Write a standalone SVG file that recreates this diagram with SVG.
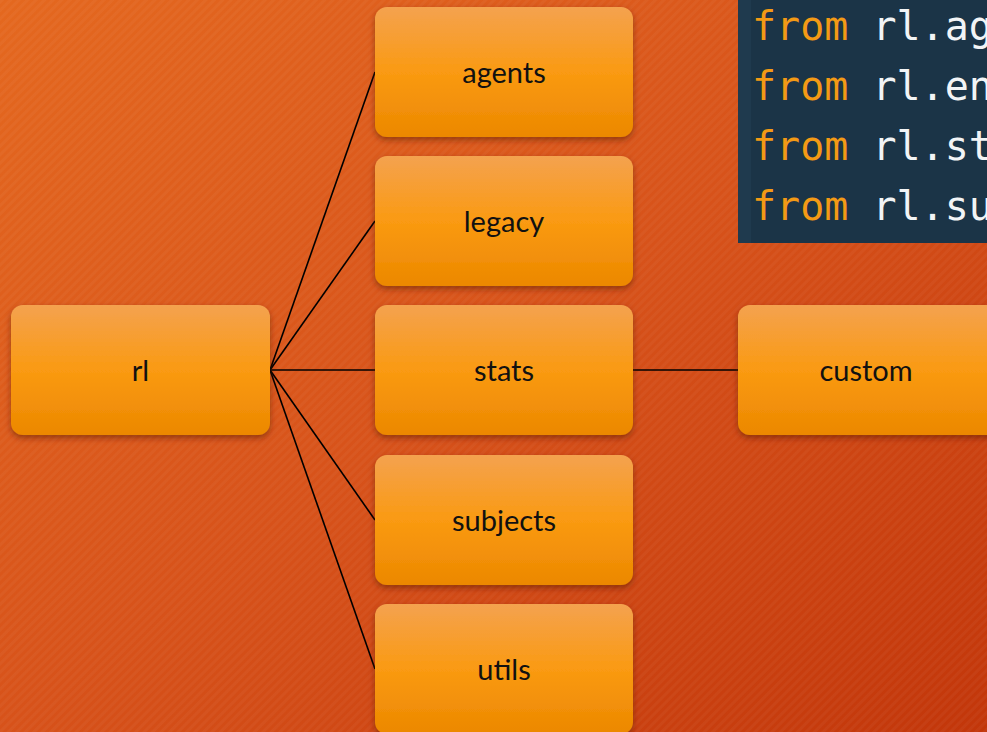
<svg xmlns="http://www.w3.org/2000/svg" width="987" height="732" viewBox="0 0 987 732">
<defs>
<linearGradient id="bg" x1="0" y1="0" x2="1" y2="1">
<stop offset="0" stop-color="#e4681f"/>
<stop offset="0.5" stop-color="#d7521a"/>
<stop offset="1" stop-color="#c2360a"/>
</linearGradient>
<pattern id="stripes" width="6" height="6" patternUnits="userSpaceOnUse" patternTransform="rotate(-45)">
<rect width="6" height="3" fill="#ffffff" fill-opacity="0.035"/>
</pattern>
<linearGradient id="box" x1="0" y1="0" x2="0" y2="1">
<stop offset="0" stop-color="#f4a24f"/>
<stop offset="0.5" stop-color="#fa9a12"/>
<stop offset="1" stop-color="#ec8800"/>
</linearGradient>
<filter id="sh" x="-10%" y="-10%" width="120%" height="130%">
<feDropShadow dx="0" dy="3" stdDeviation="3" flood-color="#5a1a00" flood-opacity="0.55"/>
</filter>
</defs>
<style>
.node rect{fill:url(#box);filter:url(#sh)}
.node text{font-family:Lato,"Open Sans","Liberation Sans",sans-serif;font-size:29px;fill:#111;text-anchor:middle;dominant-baseline:central}
.conn line{stroke:#000;stroke-width:1.6}
.code{font-family:"DejaVu Sans Mono","Liberation Mono",monospace;font-size:40px}
.kw{fill:#f39a15}
.id{fill:#f2f4f6}
</style>
<rect width="987" height="732" fill="url(#bg)"/>
<rect width="987" height="732" fill="url(#stripes)"/>

<g id="code">
<rect x="738" y="0" width="249" height="243" fill="#1b3447"/>
<rect x="738" y="0" width="13" height="243" fill="#1f3a4e"/>
<text class="code" x="752" y="40"><tspan class="kw">from</tspan><tspan class="id"> rl.ag</tspan></text>
<text class="code" x="752" y="100"><tspan class="kw">from</tspan><tspan class="id"> rl.en</tspan></text>
<text class="code" x="752" y="160"><tspan class="kw">from</tspan><tspan class="id"> rl.st</tspan></text>
<text class="code" x="752" y="220"><tspan class="kw">from</tspan><tspan class="id"> rl.su</tspan></text>
</g>

<g class="conn" id="connectors">
<line x1="270" y1="370" x2="375" y2="72"/>
<line x1="270" y1="370" x2="375" y2="221"/>
<line x1="270" y1="370" x2="375" y2="370"/>
<line x1="270" y1="370" x2="375" y2="520"/>
<line x1="270" y1="370" x2="375" y2="669"/>
<line x1="633" y1="370" x2="738" y2="370"/>
</g>

<g class="node" id="node-rl"><rect x="11" y="305" width="259" height="130" rx="12"/><text x="140.5" y="369">rl</text></g>
<g class="node" id="node-agents"><rect x="375" y="7" width="258" height="130" rx="12"/><text x="504" y="71">agents</text></g>
<g class="node" id="node-legacy"><rect x="375" y="156" width="258" height="130" rx="12"/><text x="504" y="220">legacy</text></g>
<g class="node" id="node-stats"><rect x="375" y="305" width="258" height="130" rx="12"/><text x="504" y="369">stats</text></g>
<g class="node" id="node-subjects"><rect x="375" y="455" width="258" height="130" rx="12"/><text x="504" y="519">subjects</text></g>
<g class="node" id="node-utils"><rect x="375" y="604" width="258" height="130" rx="12"/><text x="504" y="668">utils</text></g>
<g class="node" id="node-custom"><rect x="738" y="305" width="262" height="130" rx="12"/><text x="866" y="369">custom</text></g>
</svg>
